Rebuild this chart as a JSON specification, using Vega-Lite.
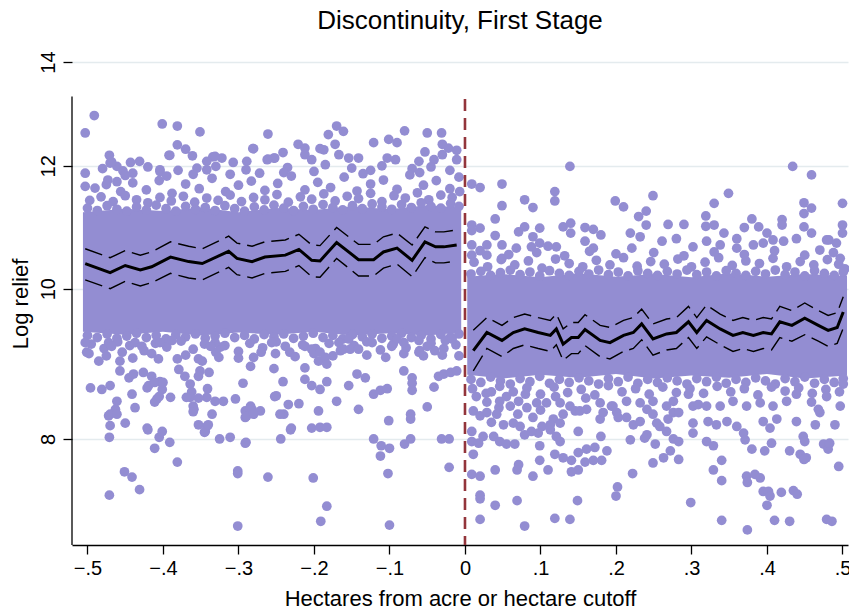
{
"$schema":"https://vega.github.io/schema/vega-lite/v6.json",
"width":776,"height":483,
"autosize":{"type":"none"},
"padding":{"left":72,"top":62,"right":1,"bottom":69},
"background":"white",
"config":{"view":{"stroke":null},"font":"Liberation Sans"},
"title":{"text":"Discontinuity, First Stage","fontSize":26,"font":"Liberation Sans","fontWeight":"normal","color":"black","anchor":"middle","frame":"group","baseline":"alphabetic","offset":20,"dy":24},
"datasets":{
"band":[{"side":"L","x":-0.506,"lo":9.38,"hi":11.2},{"side":"L","x":-0.45,"lo":9.34,"hi":11.26},{"side":"L","x":-0.4,"lo":9.38,"hi":11.22},{"side":"L","x":-0.35,"lo":9.33,"hi":11.28},{"side":"L","x":-0.3,"lo":9.37,"hi":11.2},{"side":"L","x":-0.25,"lo":9.34,"hi":11.27},{"side":"L","x":-0.2,"lo":9.38,"hi":11.24},{"side":"L","x":-0.15,"lo":9.33,"hi":11.3},{"side":"L","x":-0.1,"lo":9.36,"hi":11.25},{"side":"L","x":-0.05,"lo":9.33,"hi":11.32},{"side":"L","x":-0.005,"lo":9.37,"hi":11.28},
{"side":"R","x":0.003,"lo":8.8,"hi":10.18},{"side":"R","x":0.05,"lo":8.75,"hi":10.22},{"side":"R","x":0.1,"lo":8.8,"hi":10.17},{"side":"R","x":0.15,"lo":8.76,"hi":10.23},{"side":"R","x":0.2,"lo":8.81,"hi":10.18},{"side":"R","x":0.25,"lo":8.75,"hi":10.22},{"side":"R","x":0.3,"lo":8.79,"hi":10.17},{"side":"R","x":0.35,"lo":8.76,"hi":10.23},{"side":"R","x":0.4,"lo":8.81,"hi":10.18},{"side":"R","x":0.45,"lo":8.75,"hi":10.22},{"side":"R","x":0.506,"lo":8.79,"hi":10.19}],
"pts":[
{"x":-0.503,"y":12.6},{"x":-0.491,"y":12.93},{"x":-0.401,"y":12.77},{"x":-0.381,"y":12.73},{"x":-0.351,"y":12.62},{"x":-0.261,"y":12.58},{"x":-0.28,"y":12.31},{"x":-0.381,"y":12.38},{"x":-0.37,"y":12.3},{"x":-0.391,"y":12.19},{"x":-0.361,"y":12.18},{"x":-0.471,"y":12.19},{"x":-0.503,"y":11.87},{"x":-0.503,"y":11.64},{"x":-0.47,"y":12.05},{"x":-0.461,"y":11.99},{"x":-0.443,"y":12.06},{"x":-0.431,"y":12.08},{"x":-0.453,"y":11.91},{"x":-0.44,"y":11.87},{"x":-0.334,"y":12.16},{"x":-0.322,"y":12.14},{"x":-0.342,"y":12.08},{"x":-0.307,"y":12.06},{"x":-0.289,"y":12.08},{"x":-0.261,"y":12.12},{"x":-0.252,"y":12.14},{"x":-0.355,"y":11.96},{"x":-0.342,"y":11.93},{"x":-0.404,"y":11.9},{"x":-0.36,"y":11.85},{"x":-0.311,"y":11.85},{"x":-0.272,"y":11.87},{"x":-0.475,"y":11.67},{"x":-0.461,"y":11.72},
{"x":-0.17,"y":12.73},{"x":-0.161,"y":12.63},{"x":-0.181,"y":12.57},{"x":-0.08,"y":12.64},{"x":-0.05,"y":12.6},{"x":-0.031,"y":12.6},{"x":-0.121,"y":12.42},{"x":-0.101,"y":12.48},{"x":-0.09,"y":12.42},{"x":-0.281,"y":12.31},{"x":-0.221,"y":12.39},{"x":-0.212,"y":12.32},{"x":-0.192,"y":12.31},{"x":-0.172,"y":12.39},{"x":-0.03,"y":12.39},{"x":-0.053,"y":12.25},{"x":-0.022,"y":12.32},{"x":-0.011,"y":12.28},{"x":-0.241,"y":12.24},{"x":-0.253,"y":12.14},{"x":-0.262,"y":12.11},{"x":-0.212,"y":12.2},{"x":-0.203,"y":12.11},{"x":-0.187,"y":12.29},{"x":-0.167,"y":12.2},{"x":-0.154,"y":12.14},{"x":-0.141,"y":12.14},{"x":-0.103,"y":12.14},{"x":-0.092,"y":12.11},{"x":-0.061,"y":12.08},{"x":-0.041,"y":12.11},{"x":-0.03,"y":12.2},{"x":-0.011,"y":12.11},{"x":-0.468,"y":12.07},{"x":-0.404,"y":11.93},{"x":-0.392,"y":12.19},{"x":-0.331,"y":12.17},
{"x":-0.48,"y":11.95},{"x":-0.42,"y":11.98},{"x":-0.38,"y":11.92},{"x":-0.33,"y":11.99},{"x":-0.29,"y":11.93},{"x":-0.235,"y":11.97},{"x":-0.2,"y":11.9},{"x":-0.185,"y":12.02},{"x":-0.15,"y":11.96},{"x":-0.125,"y":11.92},{"x":-0.11,"y":12.0},{"x":-0.07,"y":11.95},{"x":-0.045,"y":11.98},{"x":-0.02,"y":11.92},{"x":-0.06,"y":11.88},{"x":-0.135,"y":11.86},{"x":-0.24,"y":11.88},{"x":-0.45,"y":11.83},{"x":-0.395,"y":11.82},
{"x":-0.49,"y":11.61},{"x":-0.473,"y":11.75},{"x":-0.456,"y":11.55},{"x":-0.44,"y":11.7},{"x":-0.422,"y":11.58},{"x":-0.405,"y":11.74},{"x":-0.388,"y":11.52},{"x":-0.37,"y":11.68},{"x":-0.352,"y":11.6},{"x":-0.335,"y":11.78},{"x":-0.317,"y":11.55},{"x":-0.3,"y":11.66},{"x":-0.283,"y":11.73},{"x":-0.265,"y":11.57},{"x":-0.248,"y":11.69},{"x":-0.23,"y":11.82},{"x":-0.212,"y":11.58},{"x":-0.195,"y":11.71},{"x":-0.178,"y":11.62},{"x":-0.16,"y":11.8},{"x":-0.143,"y":11.56},{"x":-0.125,"y":11.68},{"x":-0.108,"y":11.75},{"x":-0.09,"y":11.59},{"x":-0.073,"y":11.84},{"x":-0.055,"y":11.66},{"x":-0.038,"y":11.74},{"x":-0.02,"y":11.6},{"x":-0.008,"y":11.8},
{"x":-0.497,"y":11.4},{"x":-0.482,"y":11.46},{"x":-0.466,"y":11.38},{"x":-0.45,"y":11.48},{"x":-0.435,"y":11.41},{"x":-0.42,"y":11.36},{"x":-0.404,"y":11.45},{"x":-0.389,"y":11.39},{"x":-0.373,"y":11.47},{"x":-0.358,"y":11.37},{"x":-0.342,"y":11.44},{"x":-0.327,"y":11.4},{"x":-0.311,"y":11.49},{"x":-0.296,"y":11.38},{"x":-0.28,"y":11.45},{"x":-0.265,"y":11.41},{"x":-0.249,"y":11.5},{"x":-0.234,"y":11.37},{"x":-0.218,"y":11.46},{"x":-0.203,"y":11.42},{"x":-0.187,"y":11.51},{"x":-0.172,"y":11.39},{"x":-0.156,"y":11.47},{"x":-0.141,"y":11.43},{"x":-0.125,"y":11.52},{"x":-0.11,"y":11.38},{"x":-0.094,"y":11.48},{"x":-0.079,"y":11.44},{"x":-0.063,"y":11.53},{"x":-0.048,"y":11.41},{"x":-0.032,"y":11.49},{"x":-0.017,"y":11.45},{"x":-0.007,"y":11.55},
{"x":-0.5,"y":11.27},{"x":-0.487,"y":11.23},{"x":-0.474,"y":11.31},{"x":-0.461,"y":11.25},{"x":-0.448,"y":11.22},{"x":-0.435,"y":11.29},{"x":-0.422,"y":11.24},{"x":-0.409,"y":11.32},{"x":-0.396,"y":11.26},{"x":-0.383,"y":11.22},{"x":-0.37,"y":11.3},{"x":-0.357,"y":11.25},{"x":-0.344,"y":11.28},{"x":-0.331,"y":11.23},{"x":-0.318,"y":11.31},{"x":-0.305,"y":11.26},{"x":-0.292,"y":11.22},{"x":-0.279,"y":11.29},{"x":-0.266,"y":11.24},{"x":-0.253,"y":11.32},{"x":-0.24,"y":11.27},{"x":-0.227,"y":11.23},{"x":-0.214,"y":11.3},{"x":-0.201,"y":11.25},{"x":-0.188,"y":11.33},{"x":-0.175,"y":11.28},{"x":-0.162,"y":11.24},{"x":-0.149,"y":11.31},{"x":-0.136,"y":11.26},{"x":-0.123,"y":11.34},{"x":-0.11,"y":11.29},{"x":-0.097,"y":11.25},{"x":-0.084,"y":11.33},{"x":-0.071,"y":11.28},{"x":-0.058,"y":11.36},{"x":-0.045,"y":11.3},{"x":-0.032,"y":11.27},{"x":-0.019,"y":11.35},{"x":-0.008,"y":11.3},
{"x":-0.5,"y":9.33},{"x":-0.487,"y":9.3},{"x":-0.474,"y":9.35},{"x":-0.461,"y":9.29},{"x":-0.448,"y":9.32},{"x":-0.435,"y":9.36},{"x":-0.422,"y":9.3},{"x":-0.409,"y":9.33},{"x":-0.396,"y":9.28},{"x":-0.383,"y":9.34},{"x":-0.37,"y":9.31},{"x":-0.357,"y":9.35},{"x":-0.344,"y":9.29},{"x":-0.331,"y":9.32},{"x":-0.318,"y":9.36},{"x":-0.305,"y":9.3},{"x":-0.292,"y":9.33},{"x":-0.279,"y":9.28},{"x":-0.266,"y":9.34},{"x":-0.253,"y":9.31},{"x":-0.24,"y":9.35},{"x":-0.227,"y":9.29},{"x":-0.214,"y":9.32},{"x":-0.201,"y":9.36},{"x":-0.188,"y":9.3},{"x":-0.175,"y":9.33},{"x":-0.162,"y":9.28},{"x":-0.149,"y":9.34},{"x":-0.136,"y":9.31},{"x":-0.123,"y":9.35},{"x":-0.11,"y":9.29},{"x":-0.097,"y":9.32},{"x":-0.084,"y":9.36},{"x":-0.071,"y":9.3},{"x":-0.058,"y":9.33},{"x":-0.045,"y":9.28},{"x":-0.032,"y":9.34},{"x":-0.019,"y":9.31},{"x":-0.008,"y":9.35},
{"x":-0.495,"y":9.21},{"x":-0.478,"y":9.15},{"x":-0.46,"y":9.24},{"x":-0.444,"y":9.19},{"x":-0.425,"y":9.12},{"x":-0.41,"y":9.22},{"x":-0.395,"y":9.17},{"x":-0.376,"y":9.25},{"x":-0.36,"y":9.14},{"x":-0.345,"y":9.21},{"x":-0.318,"y":9.19},{"x":-0.3,"y":9.11},{"x":-0.285,"y":9.22},{"x":-0.268,"y":9.16},{"x":-0.25,"y":9.24},{"x":-0.232,"y":9.1},{"x":-0.215,"y":9.2},{"x":-0.198,"y":9.15},{"x":-0.18,"y":9.22},{"x":-0.165,"y":9.12},{"x":-0.147,"y":9.19},{"x":-0.13,"y":9.24},{"x":-0.112,"y":9.13},{"x":-0.095,"y":9.21},{"x":-0.078,"y":9.16},{"x":-0.06,"y":9.12},{"x":-0.045,"y":9.22},{"x":-0.028,"y":9.15},{"x":-0.012,"y":9.2},
{"x":-0.475,"y":9.05},{"x":-0.44,"y":9.02},{"x":-0.415,"y":9.08},{"x":-0.37,"y":9.06},{"x":-0.33,"y":9.1},{"x":-0.3,"y":9.02},{"x":-0.27,"y":9.1},{"x":-0.225,"y":9.04},{"x":-0.2,"y":9.08},{"x":-0.175,"y":9.05},{"x":-0.13,"y":9.06},{"x":-0.105,"y":9.03},{"x":-0.055,"y":9.05},{"x":-0.04,"y":9.12},{"x":-0.008,"y":9.05},
{"x":-0.498,"y":9.08},{"x":-0.485,"y":8.98},{"x":-0.496,"y":8.63},{"x":-0.481,"y":8.61},{"x":-0.47,"y":8.66},{"x":-0.457,"y":8.98},{"x":-0.454,"y":9.1},{"x":-0.457,"y":8.85},{"x":-0.445,"y":8.76},{"x":-0.439,"y":8.81},{"x":-0.461,"y":8.46},{"x":-0.463,"y":8.36},{"x":-0.472,"y":8.28},{"x":-0.47,"y":8.16},{"x":-0.45,"y":8.19},{"x":-0.441,"y":8.55},{"x":-0.437,"y":8.38},{"x":-0.426,"y":8.83},{"x":-0.415,"y":8.78},{"x":-0.404,"y":8.71},{"x":-0.401,"y":8.61},{"x":-0.421,"y":8.63},{"x":-0.408,"y":8.49},{"x":-0.421,"y":8.13},{"x":-0.406,"y":9.01},{"x":-0.39,"y":8.51},{"x":-0.381,"y":9.01},{"x":-0.379,"y":8.87},{"x":-0.371,"y":8.78},{"x":-0.364,"y":8.68},{"x":-0.362,"y":8.58},{"x":-0.364,"y":8.51},{"x":-0.359,"y":8.36},{"x":-0.353,"y":9.01},{"x":-0.348,"y":8.98},{"x":-0.351,"y":8.85},{"x":-0.353,"y":8.78},{"x":-0.339,"y":8.83},{"x":-0.353,"y":8.17},{"x":-0.342,"y":8.15},{"x":-0.342,"y":8.51},{"x":-0.326,"y":9.03},{"x":-0.324,"y":9.17},{"x":-0.331,"y":8.46},{"x":-0.32,"y":8.46},{"x":-0.335,"y":8.3},{"x":-0.304,"y":8.49},{"x":-0.294,"y":8.69},{"x":-0.291,"y":8.34},{"x":-0.282,"y":8.36},{"x":-0.271,"y":8.34},{"x":-0.291,"y":8.26},{"x":-0.284,"y":8.4},{"x":-0.28,"y":9.03},{"x":-0.284,"y":8.91},{"x":-0.251,"y":9.08},{"x":-0.253,"y":8.88},{"x":-0.25,"y":8.53},{"x":-0.241,"y":8.71},{"x":-0.234,"y":8.42},{"x":-0.22,"y":8.43},{"x":-0.24,"y":8.3},{"x":-0.23,"y":8.13},{"x":-0.212,"y":8.89},{"x":-0.212,"y":8.74},{"x":-0.203,"y":8.66},{"x":-0.192,"y":8.61},{"x":-0.194,"y":8.34},{"x":-0.194,"y":8.98},{"x":-0.185,"y":9.03},{"x":-0.183,"y":8.94},{"x":-0.203,"y":8.13},{"x":-0.192,"y":8.14},{"x":-0.183,"y":8.14},{"x":-0.183,"y":8.71},{"x":-0.17,"y":8.46},{"x":-0.161,"y":9.14},{"x":-0.152,"y":9.14},{"x":-0.141,"y":9.14},{"x":-0.154,"y":8.66},{"x":-0.143,"y":8.81},{"x":-0.132,"y":8.76},{"x":-0.141,"y":8.36},{"x":-0.123,"y":9.23},{"x":-0.121,"y":8.55},{"x":-0.112,"y":8.6},{"x":-0.103,"y":8.62},{"x":-0.101,"y":8.22},{"x":-0.081,"y":9.08},{"x":-0.081,"y":8.85},{"x":-0.07,"y":8.76},{"x":-0.07,"y":8.69},{"x":-0.07,"y":8.6},{"x":-0.072,"y":8.3},{"x":-0.072,"y":8.24},{"x":-0.061,"y":9.1},{"x":-0.05,"y":8.39},{"x":-0.041,"y":8.64},{"x":-0.035,"y":8.78},{"x":-0.028,"y":8.81},{"x":-0.019,"y":8.83},{"x":-0.011,"y":8.85},{"x":-0.03,"y":9.06},{"x":-0.026,"y":9.26},{"x":-0.017,"y":9.28},{"x":-0.081,"y":9.23},{"x":-0.09,"y":9.28},{"x":-0.331,"y":9.23},{"x":-0.337,"y":9.18},{"x":-0.404,"y":9.23},{"x":-0.388,"y":9.26},{"x":-0.503,"y":9.23},{"x":-0.501,"y":9.1},{"x":-0.472,"y":9.23},{"x":-0.468,"y":9.18},{"x":-0.437,"y":9.23},{"x":-0.428,"y":9.18},{"x":-0.256,"y":9.23},{"x":-0.238,"y":9.18},{"x":-0.212,"y":9.18},{"x":-0.203,"y":9.14},{"x":-0.192,"y":9.1},{"x":-0.167,"y":9.23},{"x":-0.154,"y":9.28},{"x":-0.097,"y":9.18},{"x":-0.061,"y":9.26},{"x":-0.05,"y":9.18},
{"x":-0.471,"y":8.02},{"x":-0.471,"y":7.36},{"x":-0.451,"y":7.62},{"x":-0.441,"y":7.56},{"x":-0.431,"y":7.42},{"x":-0.411,"y":7.89},{"x":-0.405,"y":8.02},{"x":-0.401,"y":8.09},{"x":-0.391,"y":7.96},{"x":-0.42,"y":8.11},{"x":-0.381,"y":7.73},{"x":-0.345,"y":8.08},{"x":-0.325,"y":8.0},{"x":-0.311,"y":8.02},{"x":-0.301,"y":7.63},{"x":-0.301,"y":7.6},{"x":-0.301,"y":7.03},{"x":-0.291,"y":7.95},{"x":-0.261,"y":7.56},{"x":-0.244,"y":8.0},{"x":-0.231,"y":8.11},{"x":-0.201,"y":7.55},{"x":-0.183,"y":7.24},{"x":-0.191,"y":7.08},{"x":-0.121,"y":8.0},{"x":-0.111,"y":7.92},{"x":-0.1,"y":7.89},{"x":-0.112,"y":7.8},{"x":-0.102,"y":7.6},{"x":-0.1,"y":7.04},{"x":-0.08,"y":7.94},{"x":-0.072,"y":8.0},{"x":-0.031,"y":8.0},{"x":-0.021,"y":8.0},{"x":-0.021,"y":7.67},
{"x":-0.47,"y":8.3},{"x":-0.461,"y":8.3},{"x":-0.411,"y":8.45},{"x":-0.405,"y":8.52},{"x":-0.419,"y":8.66},{"x":-0.411,"y":8.7},{"x":-0.4,"y":8.7},{"x":-0.369,"y":8.51},{"x":-0.36,"y":8.4},{"x":-0.36,"y":8.33},{"x":-0.353,"y":8.5},{"x":-0.344,"y":8.09},{"x":-0.34,"y":8.17},{"x":-0.341,"y":8.62},{"x":-0.289,"y":8.28},{"x":-0.28,"y":8.3},{"x":-0.29,"y":7.96},{"x":-0.252,"y":8.52},{"x":-0.245,"y":8.3},
{"x":0.139,"y":11.99},{"x":0.009,"y":11.68},{"x":0.02,"y":11.62},{"x":0.049,"y":11.68},{"x":0.049,"y":11.31},{"x":0.079,"y":11.41},{"x":0.09,"y":11.28},{"x":0.119,"y":11.55},{"x":0.119,"y":11.39},{"x":0.199,"y":11.39},{"x":0.21,"y":11.29},{"x":0.249,"y":11.48},{"x":0.23,"y":11.13},{"x":0.24,"y":11.22},{"x":0.24,"y":10.99},{"x":0.269,"y":11.0},{"x":0.29,"y":11.0},{"x":0.319,"y":11.14},{"x":0.319,"y":10.97},{"x":0.33,"y":10.99},{"x":0.33,"y":11.35},{"x":0.349,"y":11.52},{"x":0.434,"y":11.99},{"x":0.459,"y":11.84},{"x":0.449,"y":11.36},{"x":0.459,"y":11.27},{"x":0.449,"y":11.18},{"x":0.449,"y":10.96},{"x":0.459,"y":10.86},{"x":0.5,"y":11.35},{"x":0.5,"y":10.99},{"x":0.5,"y":10.86},{"x":0.38,"y":11.09},{"x":0.389,"y":10.96},{"x":0.37,"y":10.95},{"x":0.42,"y":11.08},{"x":0.42,"y":10.99},{"x":0.4,"y":10.86},{"x":0.04,"y":11.09},{"x":0.009,"y":10.99},{"x":0.02,"y":10.94},{"x":0.009,"y":10.9},{"x":0.071,"y":10.88},{"x":0.079,"y":10.96},{"x":0.09,"y":10.8},{"x":0.099,"y":10.94},{"x":0.13,"y":10.96},{"x":0.14,"y":11.02},{"x":0.14,"y":10.86},{"x":0.159,"y":10.95},{"x":0.17,"y":10.92},{"x":0.18,"y":10.83},{"x":0.219,"y":10.86},{"x":0.343,"y":10.86},{"x":0.36,"y":10.77},{"x":0.482,"y":10.75},{"x":0.04,"y":10.82},{"x":0.009,"y":10.67},{"x":0.009,"y":10.51},{"x":0.029,"y":10.67},{"x":0.029,"y":10.51},{"x":0.049,"y":10.67},{"x":0.049,"y":10.46},{"x":0.068,"y":10.62},{"x":0.088,"y":10.64},{"x":0.099,"y":10.7},{"x":0.121,"y":10.64},{"x":0.159,"y":10.73},{"x":0.17,"y":10.62},{"x":0.221,"y":10.62},{"x":0.232,"y":10.8},{"x":0.261,"y":10.73},{"x":0.28,"y":10.77},{"x":0.302,"y":10.64},{"x":0.32,"y":10.73},{"x":0.338,"y":10.67},{"x":0.36,"y":10.62},{"x":0.382,"y":10.67},{"x":0.395,"y":10.7},{"x":0.408,"y":10.75},{"x":0.422,"y":10.73},{"x":0.439,"y":10.77},{"x":0.47,"y":10.59},{"x":0.479,"y":10.75},{"x":0.492,"y":10.7},{"x":0.497,"y":10.46},{"x":0.11,"y":10.65},
{"x":0.012,"y":10.4},{"x":0.03,"y":10.33},{"x":0.048,"y":10.44},{"x":0.066,"y":10.36},{"x":0.084,"y":10.42},{"x":0.102,"y":10.31},{"x":0.12,"y":10.45},{"x":0.138,"y":10.38},{"x":0.156,"y":10.33},{"x":0.174,"y":10.43},{"x":0.192,"y":10.36},{"x":0.21,"y":10.47},{"x":0.228,"y":10.34},{"x":0.246,"y":10.41},{"x":0.264,"y":10.37},{"x":0.282,"y":10.45},{"x":0.3,"y":10.33},{"x":0.318,"y":10.4},{"x":0.336,"y":10.47},{"x":0.354,"y":10.35},{"x":0.372,"y":10.42},{"x":0.39,"y":10.38},{"x":0.408,"y":10.46},{"x":0.426,"y":10.33},{"x":0.444,"y":10.41},{"x":0.462,"y":10.36},{"x":0.48,"y":10.44},{"x":0.495,"y":10.37},{"x":0.503,"y":10.3},
{"x":0.02,"y":10.58},{"x":0.058,"y":10.52},{"x":0.095,"y":10.55},{"x":0.132,"y":10.5},{"x":0.165,"y":10.57},{"x":0.2,"y":10.53},{"x":0.25,"y":10.55},{"x":0.29,"y":10.5},{"x":0.33,"y":10.56},{"x":0.37,"y":10.52},{"x":0.41,"y":10.58},{"x":0.45,"y":10.51},{"x":0.488,"y":10.55},
{"x":0.008,"y":10.22},{"x":0.021,"y":10.26},{"x":0.034,"y":10.2},{"x":0.047,"y":10.24},{"x":0.06,"y":10.28},{"x":0.073,"y":10.21},{"x":0.086,"y":10.25},{"x":0.099,"y":10.19},{"x":0.112,"y":10.27},{"x":0.125,"y":10.23},{"x":0.138,"y":10.2},{"x":0.151,"y":10.26},{"x":0.164,"y":10.22},{"x":0.177,"y":10.28},{"x":0.19,"y":10.21},{"x":0.203,"y":10.25},{"x":0.216,"y":10.19},{"x":0.229,"y":10.27},{"x":0.242,"y":10.23},{"x":0.255,"y":10.2},{"x":0.268,"y":10.26},{"x":0.281,"y":10.22},{"x":0.294,"y":10.28},{"x":0.307,"y":10.21},{"x":0.32,"y":10.25},{"x":0.333,"y":10.19},{"x":0.346,"y":10.27},{"x":0.359,"y":10.23},{"x":0.372,"y":10.2},{"x":0.385,"y":10.26},{"x":0.398,"y":10.22},{"x":0.411,"y":10.28},{"x":0.424,"y":10.21},{"x":0.437,"y":10.25},{"x":0.45,"y":10.19},{"x":0.463,"y":10.27},{"x":0.476,"y":10.23},{"x":0.489,"y":10.2},{"x":0.501,"y":10.25},
{"x":0.008,"y":8.74},{"x":0.021,"y":8.7},{"x":0.034,"y":8.77},{"x":0.047,"y":8.72},{"x":0.06,"y":8.68},{"x":0.073,"y":8.75},{"x":0.086,"y":8.71},{"x":0.099,"y":8.78},{"x":0.112,"y":8.69},{"x":0.125,"y":8.74},{"x":0.138,"y":8.7},{"x":0.151,"y":8.76},{"x":0.164,"y":8.72},{"x":0.177,"y":8.68},{"x":0.19,"y":8.75},{"x":0.203,"y":8.71},{"x":0.216,"y":8.77},{"x":0.229,"y":8.69},{"x":0.242,"y":8.74},{"x":0.255,"y":8.7},{"x":0.268,"y":8.76},{"x":0.281,"y":8.72},{"x":0.294,"y":8.68},{"x":0.307,"y":8.75},{"x":0.32,"y":8.71},{"x":0.333,"y":8.77},{"x":0.346,"y":8.69},{"x":0.359,"y":8.74},{"x":0.372,"y":8.7},{"x":0.385,"y":8.76},{"x":0.398,"y":8.72},{"x":0.411,"y":8.68},{"x":0.424,"y":8.75},{"x":0.437,"y":8.71},{"x":0.45,"y":8.77},{"x":0.463,"y":8.69},{"x":0.476,"y":8.74},{"x":0.489,"y":8.7},{"x":0.501,"y":8.75},
{"x":0.01,"y":8.62},{"x":0.028,"y":8.56},{"x":0.046,"y":8.65},{"x":0.064,"y":8.58},{"x":0.082,"y":8.63},{"x":0.1,"y":8.55},{"x":0.118,"y":8.64},{"x":0.136,"y":8.57},{"x":0.154,"y":8.61},{"x":0.172,"y":8.54},{"x":0.19,"y":8.66},{"x":0.208,"y":8.58},{"x":0.226,"y":8.62},{"x":0.244,"y":8.55},{"x":0.262,"y":8.64},{"x":0.28,"y":8.57},{"x":0.298,"y":8.62},{"x":0.316,"y":8.56},{"x":0.334,"y":8.65},{"x":0.352,"y":8.58},{"x":0.37,"y":8.62},{"x":0.388,"y":8.54},{"x":0.406,"y":8.64},{"x":0.424,"y":8.59},{"x":0.442,"y":8.63},{"x":0.46,"y":8.56},{"x":0.478,"y":8.61},{"x":0.496,"y":8.58},
{"x":0.015,"y":8.52},{"x":0.035,"y":8.58},{"x":0.055,"y":8.52},{"x":0.08,"y":8.55},{"x":0.12,"y":8.52},{"x":0.16,"y":8.5},{"x":0.045,"y":8.38},{"x":0.07,"y":8.3},{"x":0.09,"y":8.26},{"x":0.13,"y":8.3},{"x":0.035,"y":8.2},{"x":0.1,"y":8.35},
{"x":0.011,"y":7.82},{"x":0.009,"y":7.59},{"x":0.02,"y":7.57},{"x":0.04,"y":7.64},{"x":0.071,"y":7.7},{"x":0.09,"y":7.57},{"x":0.099,"y":7.75},{"x":0.11,"y":7.64},{"x":0.119,"y":7.82},{"x":0.13,"y":7.78},{"x":0.141,"y":7.75},{"x":0.15,"y":7.64},{"x":0.141,"y":7.62},{"x":0.15,"y":7.84},{"x":0.161,"y":7.88},{"x":0.172,"y":7.9},{"x":0.188,"y":7.86},{"x":0.181,"y":7.75},{"x":0.159,"y":7.73},{"x":0.17,"y":7.75},{"x":0.15,"y":8.09},{"x":0.18,"y":8.03},{"x":0.222,"y":7.6},{"x":0.252,"y":7.94},{"x":0.249,"y":7.72},{"x":0.263,"y":7.78},{"x":0.272,"y":7.86},{"x":0.283,"y":7.76},{"x":0.219,"y":7.99},{"x":0.258,"y":8.15},{"x":0.267,"y":8.09},{"x":0.276,"y":8.0},{"x":0.283,"y":7.97},{"x":0.302,"y":8.19},{"x":0.302,"y":8.07},{"x":0.32,"y":7.97},{"x":0.329,"y":7.92},{"x":0.329,"y":7.64},{"x":0.34,"y":7.75},{"x":0.322,"y":8.21},{"x":0.333,"y":8.17},{"x":0.347,"y":8.21},{"x":0.36,"y":8.15},{"x":0.369,"y":8.07},{"x":0.371,"y":7.99},{"x":0.38,"y":7.88},{"x":0.373,"y":7.57},{"x":0.384,"y":7.59},{"x":0.395,"y":8.21},{"x":0.404,"y":8.13},{"x":0.413,"y":8.24},{"x":0.397,"y":7.86},{"x":0.406,"y":7.95},{"x":0.43,"y":7.86},{"x":0.439,"y":8.21},{"x":0.444,"y":7.82},{"x":0.452,"y":7.78},{"x":0.448,"y":8.03},{"x":0.45,"y":7.97},{"x":0.464,"y":8.17},{"x":0.47,"y":8.32},{"x":0.475,"y":7.94},{"x":0.481,"y":7.88},{"x":0.483,"y":7.95},{"x":0.49,"y":8.17},{"x":0.495,"y":7.68},{"x":0.439,"y":8.55},{"x":0.459,"y":8.45},{"x":0.468,"y":8.36},{"x":0.497,"y":8.4},{"x":0.501,"y":8.68},{"x":0.296,"y":8.55},{"x":0.302,"y":8.4},{"x":0.309,"y":8.42},{"x":0.32,"y":8.4},{"x":0.276,"y":8.46},{"x":0.276,"y":8.32},{"x":0.269,"y":8.24},{"x":0.283,"y":8.32},{"x":0.241,"y":8.36},{"x":0.249,"y":8.3},{"x":0.254,"y":8.19},{"x":0.241,"y":8.05},{"x":0.238,"y":8.01},{"x":0.214,"y":8.26},{"x":0.223,"y":8.17},{"x":0.232,"y":8.21},{"x":0.194,"y":8.4},{"x":0.201,"y":8.32},{"x":0.203,"y":8.26},{"x":0.179,"y":8.24},{"x":0.183,"y":8.32},{"x":0.146,"y":8.34},{"x":0.152,"y":8.34},{"x":0.161,"y":8.36},{"x":0.117,"y":8.24},{"x":0.126,"y":8.19},{"x":0.113,"y":8.17},{"x":0.097,"y":8.07},{"x":0.099,"y":7.92},{"x":0.102,"y":8.15},{"x":0.113,"y":8.11},{"x":0.121,"y":8.03},{"x":0.126,"y":7.97},{"x":0.079,"y":8.05},{"x":0.088,"y":8.09},{"x":0.073,"y":8.15},{"x":0.064,"y":8.19},{"x":0.051,"y":8.17},{"x":0.038,"y":8.03},{"x":0.046,"y":7.97},{"x":0.055,"y":7.94},{"x":0.066,"y":7.94},{"x":0.009,"y":8.09},{"x":0.009,"y":7.97},{"x":0.018,"y":7.95},{"x":0.024,"y":8.03},{"x":0.011,"y":8.34},{"x":0.02,"y":8.28},{"x":0.029,"y":8.32},{"x":0.042,"y":8.3},{"x":0.029,"y":8.45},{"x":0.046,"y":8.46},{"x":0.06,"y":8.4},{"x":0.071,"y":8.46},{"x":0.082,"y":8.38},{"x":0.095,"y":8.44},{"x":0.108,"y":8.44},{"x":0.126,"y":8.44},{"x":0.139,"y":8.4},{"x":0.179,"y":8.44},{"x":0.196,"y":8.4},{"x":0.214,"y":8.46},{"x":0.232,"y":8.44},{"x":0.249,"y":8.46},{"x":0.267,"y":8.4},{"x":0.338,"y":8.4},{"x":0.355,"y":8.46},{"x":0.373,"y":8.4},{"x":0.391,"y":8.44},{"x":0.408,"y":8.4},{"x":0.426,"y":8.46},{"x":0.479,"y":8.52},
{"x":0.069,"y":7.64},{"x":0.02,"y":7.36},{"x":0.02,"y":7.32},{"x":0.04,"y":7.25},{"x":0.069,"y":7.3},{"x":0.02,"y":7.1},{"x":0.079,"y":7.03},{"x":0.119,"y":7.11},{"x":0.139,"y":7.1},{"x":0.149,"y":7.3},{"x":0.202,"y":7.45},{"x":0.2,"y":7.35},{"x":0.299,"y":7.28},{"x":0.34,"y":7.52},{"x":0.34,"y":7.09},{"x":0.374,"y":7.5},{"x":0.391,"y":7.55},{"x":0.374,"y":6.99},{"x":0.395,"y":7.4},{"x":0.402,"y":7.4},{"x":0.404,"y":7.35},{"x":0.4,"y":7.25},{"x":0.419,"y":7.39},{"x":0.435,"y":7.41},{"x":0.44,"y":7.37},{"x":0.41,"y":7.09},{"x":0.43,"y":7.08},{"x":0.479,"y":7.1},{"x":0.486,"y":7.08},{"x":0.449,"y":7.76}
],
"fit":[
{"side":"L","x":-0.503,"m":10.38,"hi":10.61,"lo":10.13},{"side":"L","x":-0.47,"m":10.24,"hi":10.47,"lo":10.0},{"side":"L","x":-0.45,"m":10.35,"hi":10.58,"lo":10.11},{"side":"L","x":-0.43,"m":10.28,"hi":10.51,"lo":10.04},{"side":"L","x":-0.415,"m":10.33,"hi":10.56,"lo":10.09},{"side":"L","x":-0.39,"m":10.48,"hi":10.72,"lo":10.23},{"side":"L","x":-0.366,"m":10.41,"hi":10.65,"lo":10.16},{"side":"L","x":-0.348,"m":10.38,"hi":10.61,"lo":10.13},{"side":"L","x":-0.313,"m":10.57,"hi":10.81,"lo":10.32},{"side":"L","x":-0.302,"m":10.46,"hi":10.7,"lo":10.21},{"side":"L","x":-0.282,"m":10.41,"hi":10.65,"lo":10.16},{"side":"L","x":-0.265,"m":10.48,"hi":10.72,"lo":10.23},{"side":"L","x":-0.238,"m":10.51,"hi":10.75,"lo":10.26},{"side":"L","x":-0.22,"m":10.6,"hi":10.84,"lo":10.35},{"side":"L","x":-0.203,"m":10.43,"hi":10.67,"lo":10.18},{"side":"L","x":-0.192,"m":10.42,"hi":10.66,"lo":10.17},{"side":"L","x":-0.17,"m":10.71,"hi":10.95,"lo":10.46},{"side":"L","x":-0.141,"m":10.44,"hi":10.68,"lo":10.19},{"side":"L","x":-0.121,"m":10.44,"hi":10.68,"lo":10.19},{"side":"L","x":-0.108,"m":10.56,"hi":10.8,"lo":10.31},{"side":"L","x":-0.09,"m":10.62,"hi":10.86,"lo":10.37},{"side":"L","x":-0.07,"m":10.43,"hi":10.67,"lo":10.18},{"side":"L","x":-0.053,"m":10.72,"hi":10.96,"lo":10.47},{"side":"L","x":-0.039,"m":10.64,"hi":10.88,"lo":10.39},{"side":"L","x":-0.028,"m":10.64,"hi":10.88,"lo":10.39},{"side":"L","x":-0.011,"m":10.67,"hi":10.91,"lo":10.42},
{"side":"R","x":0.011,"m":9.12,"hi":9.4,"lo":8.85},{"side":"R","x":0.029,"m":9.37,"hi":9.58,"lo":9.15},{"side":"R","x":0.049,"m":9.26,"hi":9.47,"lo":9.04},{"side":"R","x":0.064,"m":9.37,"hi":9.58,"lo":9.15},{"side":"R","x":0.079,"m":9.42,"hi":9.63,"lo":9.2},{"side":"R","x":0.097,"m":9.37,"hi":9.58,"lo":9.15},{"side":"R","x":0.113,"m":9.33,"hi":9.54,"lo":9.11},{"side":"R","x":0.121,"m":9.42,"hi":9.63,"lo":9.2},{"side":"R","x":0.13,"m":9.21,"hi":9.42,"lo":8.99},{"side":"R","x":0.141,"m":9.3,"hi":9.51,"lo":9.08},{"side":"R","x":0.15,"m":9.3,"hi":9.51,"lo":9.08},{"side":"R","x":0.159,"m":9.41,"hi":9.62,"lo":9.19},{"side":"R","x":0.179,"m":9.26,"hi":9.47,"lo":9.04},{"side":"R","x":0.192,"m":9.23,"hi":9.44,"lo":9.01},{"side":"R","x":0.21,"m":9.33,"hi":9.54,"lo":9.11},{"side":"R","x":0.223,"m":9.37,"hi":9.58,"lo":9.15},{"side":"R","x":0.234,"m":9.49,"hi":9.7,"lo":9.27},{"side":"R","x":0.249,"m":9.28,"hi":9.49,"lo":9.06},{"side":"R","x":0.267,"m":9.35,"hi":9.56,"lo":9.13},{"side":"R","x":0.28,"m":9.37,"hi":9.58,"lo":9.15},{"side":"R","x":0.296,"m":9.52,"hi":9.74,"lo":9.3},{"side":"R","x":0.307,"m":9.37,"hi":9.58,"lo":9.15},{"side":"R","x":0.32,"m":9.54,"hi":9.76,"lo":9.31},{"side":"R","x":0.338,"m":9.42,"hi":9.63,"lo":9.2},{"side":"R","x":0.355,"m":9.33,"hi":9.54,"lo":9.11},{"side":"R","x":0.368,"m":9.37,"hi":9.58,"lo":9.15},{"side":"R","x":0.382,"m":9.33,"hi":9.54,"lo":9.11},{"side":"R","x":0.395,"m":9.37,"hi":9.58,"lo":9.15},{"side":"R","x":0.406,"m":9.35,"hi":9.56,"lo":9.13},{"side":"R","x":0.417,"m":9.52,"hi":9.74,"lo":9.3},{"side":"R","x":0.433,"m":9.47,"hi":9.68,"lo":9.25},{"side":"R","x":0.45,"m":9.57,"hi":9.79,"lo":9.34},{"side":"R","x":0.468,"m":9.47,"hi":9.68,"lo":9.25},{"side":"R","x":0.481,"m":9.4,"hi":9.61,"lo":9.18},{"side":"R","x":0.493,"m":9.44,"hi":9.65,"lo":9.22},{"side":"R","x":0.501,"m":9.66,"hi":9.88,"lo":9.43}
],
"vline":[{"x":0,"y":13.25,"y2":6.835}],
"yline":[{"x":-0.5205,"y":13.3,"y2":6.835}]
},
"layer":[
{"data":{"name":"band"},"mark":{"type":"area","color":"#938dd2","opacity":1},
 "encoding":{
  "x":{"field":"x","type":"quantitative","title":"Hectares from acre or hectare cutoff","scale":{"domain":[-0.5205,0.5073],"nice":false,"zero":false},
   "axis":{"title":"Hectares from acre or hectare cutoff","values":[-0.5,-0.4,-0.3,-0.2,-0.1,0,0.1,0.2,0.3,0.4,0.5],"labelExpr":"datum.value == 0 ? '0' : replace(format(datum.value, '.1f'), '0.', '.')","grid":false,"domainColor":"black","domainWidth":1.3,"tickColor":"black","tickWidth":1.3,"tickSize":9,"labelFontSize":20,"labelColor":"black","labelPadding":4,"labelFont":"Liberation Sans","labelFlush":false,"labelOverlap":false,"titleFontSize":22,"titleFontWeight":"normal","titleColor":"black","titleFont":"Liberation Sans","titlePadding":10}},
  "y":{"field":"hi","type":"quantitative","title":"Log relief","scale":{"type":"log","domain":[6.835,14],"nice":false,"zero":false},
   "axis":{"title":"Log relief","values":[8,10,12,14],"grid":true,"gridColor":"#e4ebee","gridWidth":1.5,"domain":false,"tickColor":"black","tickWidth":1.3,"tickSize":9,"labelAngle":-90,"labelAlign":"center","labelBaseline":"alphabetic","labelPadding":9,"labelFontSize":20,"labelColor":"black","labelFont":"Liberation Sans","titleFontSize":22,"titleFontWeight":"normal","titleColor":"black","titleFont":"Liberation Sans","titlePadding":6}},
  "y2":{"field":"lo"},
  "detail":{"field":"side"}}},
{"data":{"name":"pts"},"mark":{"type":"circle","size":95,"color":"#938dd2","opacity":1},
 "encoding":{
  "x":{"field":"x","type":"quantitative","title":"Hectares from acre or hectare cutoff","scale":{"domain":[-0.5205,0.5073],"nice":false,"zero":false}},
  "y":{"field":"y","type":"quantitative","title":"Log relief","scale":{"type":"log","domain":[6.835,14],"nice":false,"zero":false}}}},
{"data":{"name":"fit"},"mark":{"type":"line","color":"black","strokeWidth":1.4,"strokeDash":[18,7]},
 "encoding":{
  "x":{"field":"x","type":"quantitative","title":"Hectares from acre or hectare cutoff","scale":{"domain":[-0.5205,0.5073],"nice":false,"zero":false}},
  "y":{"field":"hi","type":"quantitative","title":"Log relief","scale":{"type":"log","domain":[6.835,14],"nice":false,"zero":false}},
  "detail":{"field":"side"}}},
{"data":{"name":"fit"},"mark":{"type":"line","color":"black","strokeWidth":1.4,"strokeDash":[18,7]},
 "encoding":{
  "x":{"field":"x","type":"quantitative","title":"Hectares from acre or hectare cutoff","scale":{"domain":[-0.5205,0.5073],"nice":false,"zero":false}},
  "y":{"field":"lo","type":"quantitative","title":"Log relief","scale":{"type":"log","domain":[6.835,14],"nice":false,"zero":false}},
  "detail":{"field":"side"}}},
{"data":{"name":"fit"},"mark":{"type":"line","color":"black","strokeWidth":3},
 "encoding":{
  "x":{"field":"x","type":"quantitative","title":"Hectares from acre or hectare cutoff","scale":{"domain":[-0.5205,0.5073],"nice":false,"zero":false}},
  "y":{"field":"m","type":"quantitative","title":"Log relief","scale":{"type":"log","domain":[6.835,14],"nice":false,"zero":false}},
  "detail":{"field":"side"}}},
{"data":{"name":"vline"},"mark":{"type":"rule","color":"#93353b","strokeWidth":2.6,"strokeDash":[12,7]},
 "encoding":{
  "x":{"field":"x","type":"quantitative","title":"Hectares from acre or hectare cutoff","scale":{"domain":[-0.5205,0.5073],"nice":false,"zero":false}},
  "y":{"field":"y","type":"quantitative","title":"Log relief","scale":{"type":"log","domain":[6.835,14],"nice":false,"zero":false}},
  "y2":{"field":"y2"}}},
{"data":{"name":"yline"},"mark":{"type":"rule","color":"black","strokeWidth":1.3},
 "encoding":{
  "x":{"field":"x","type":"quantitative","title":"Hectares from acre or hectare cutoff","scale":{"domain":[-0.5205,0.5073],"nice":false,"zero":false}},
  "y":{"field":"y","type":"quantitative","title":"Log relief","scale":{"type":"log","domain":[6.835,14],"nice":false,"zero":false}},
  "y2":{"field":"y2"}}}
]
}
